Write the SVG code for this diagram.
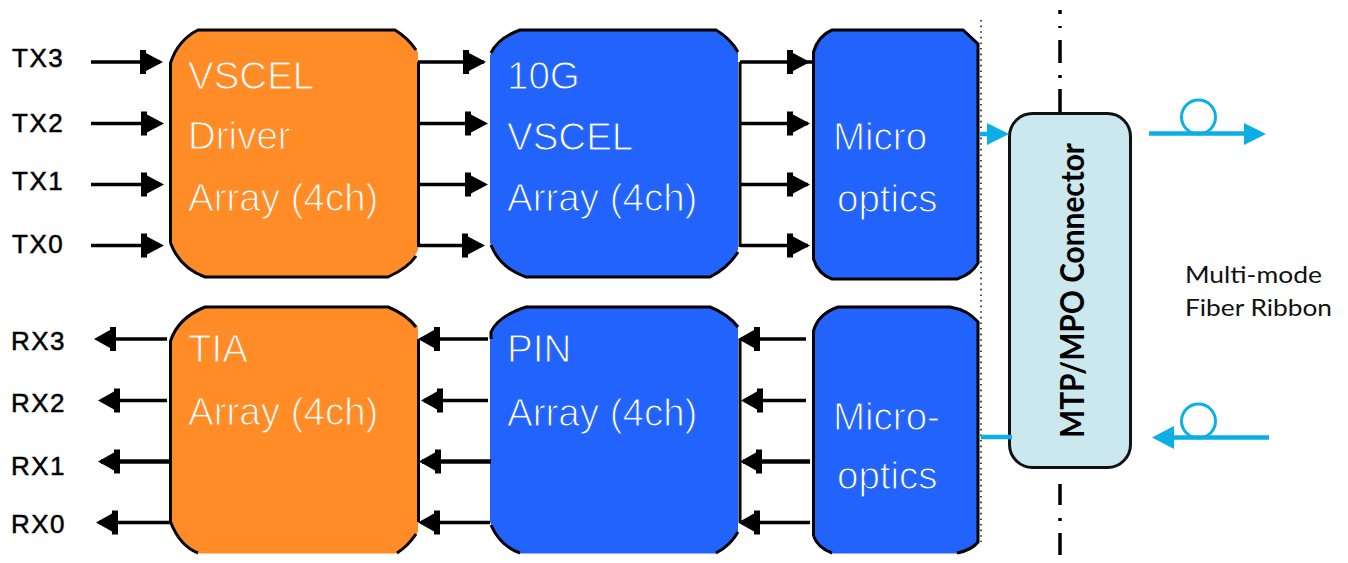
<svg xmlns="http://www.w3.org/2000/svg" width="1348" height="563" viewBox="0 0 1348 563">
<style>
.out{fill:none;stroke:#000;stroke-width:3}
.or{fill:#FF8C26}
.bl{fill:#2163FB}
.t{font-family:"Liberation Sans",Arial,sans-serif;font-size:38.5px;fill:#fff;stroke-width:1.1px}
.to{stroke:#FF8C26}
.tb{stroke:#2163FB}
.lab{font-family:"Liberation Sans",Arial,sans-serif;font-size:26px;fill:#000;stroke:#000;stroke-width:.5px;letter-spacing:1.5px}
.sig{stroke:#000;stroke-width:3.500;fill:none}
.sigt{stroke:#000;stroke-width:4.500;fill:none}
.fib{stroke:#0BAFE6;stroke-width:4.500;fill:none}
.loop{stroke:#0BAFE6;stroke-width:3;fill:none}
.hb{fill:#000}
.hc{fill:#0BAFE6}
.note{font-family:Lato,"Noto Sans",sans-serif;font-size:24px;fill:#111}
</style>
<defs>
<path id="r" class="hb" d="M0,0L-17,-9V-12H-23V12H-17V9Z"/>
<path id="l" class="hb" d="M0,0L16,-9V-12H22V12H16V9Z"/>
</defs>
<g id="separators">
<line x1="981" y1="20" x2="981" y2="542" stroke="#222" stroke-width="1.6" stroke-dasharray="1.6 4"/>
<g stroke="#000" stroke-width="3.5" fill="none">
<path d="M1060,10V14M1060,26V28M1060,40V63M1060,75V78M1060,89V113M1060,484V505M1060,518V521M1060,533V555"/>
</g>
</g>
<g id="driver">
<path class="or" d="M198,29H395Q410,38 418,52V250Q410,268 388,277H205Q180,268 170,243V63Q178,40 198,29Z"/>
<path class="out" d="M170.500,243V63Q178,40 198,30H395Q408,38 416,50M418.500,62V247M416,256Q408,268 388,277H205Q180,268 170.500,243"/>
<text class="t to" x="188" y="89">VSCEL</text>
<text class="t to" x="188" y="149">Driver</text>
<text class="t to" x="188" y="211">Array (4ch)</text>
</g>
<g id="tia">
<path class="or" d="M205,306H388Q408,314 418,327V532Q410,546 397,553.500H198Q180,546 170,522V341Q178,318 205,306Z"/>
<path class="out" d="M170.500,522V341Q178,318 205,307H388Q406,314 416,327M418.500,339V522M416,534Q408,546 397,553M198,553Q180,546 170.500,522"/>
<text class="t to" x="188" y="362">TIA</text>
<text class="t to" x="188" y="425">Array (4ch)</text>
</g>
<g id="vcsel">
<path class="bl" d="M520,29H716Q730,38 738,52V250Q728,268 710,277H526Q500,268 490,243V55Q498,38 520,29Z"/>
<path class="out" d="M491,53Q498,38 520,30H716Q730,38 738,52M740,62V247M738,252Q728,268 710,277H526Q500,268 491,245"/>
<text class="t tb" x="507" y="89">10G</text>
<text class="t tb" x="507" y="150">VSCEL</text>
<text class="t tb" x="507" y="211">Array (4ch)</text>
</g>
<g id="pin">
<path class="bl" d="M526,306H710Q728,314 738,327V532Q730,546 716,553.500H520Q500,546 490,522V335Q498,316 526,306Z"/>
<path class="out" d="M491,339V332Q498,316 526,307H710Q728,314 738,327M740,339V522M738,532Q730,546 716,553M520,553Q500,546 491,525"/>
<text class="t tb" x="507" y="362">PIN</text>
<text class="t tb" x="507" y="426">Array (4ch)</text>
</g>
<g id="micro-tx">
<path class="bl" d="M832,29H963L978,44V263Q972,274 957,279H832Q818,274 813,259V52Q818,36 832,29Z"/>
<path class="out" d="M813.500,259V52Q818,36 832,30H963L978,44V263Q972,274 957,279H832Q818,274 813.500,259Z"/>
<text class="t tb" x="833" y="150">Micro</text>
<text class="t tb" x="837" y="212">optics</text>
</g>
<g id="micro-rx">
<path class="bl" d="M838,306H950Q968,310 978,322V542Q972,550 957,553.500H832Q818,548 813,536V331Q818,314 838,306Z"/>
<path class="out" d="M813.500,536V331Q818,314 838,307H950Q968,310 978,322V542Q972,550 957,553M832,553Q818,548 813.500,536"/>
<text class="t tb" x="833" y="430">Micro-</text>
<text class="t tb" x="837" y="489">optics</text>
</g>
<g id="connector">
<rect x="1009.500" y="113.500" width="121" height="354" rx="23" fill="#CBE8EE" stroke="#111" stroke-width="3"/>
<text font-family="Lato,'Noto Sans',sans-serif" font-weight="700" font-size="33" fill="#000" transform="translate(1084,438) rotate(-90)" textLength="295" lengthAdjust="spacingAndGlyphs">MTP/MPO Connector</text>
</g>
<g id="labels">
<text class="lab" x="12" y="67">TX3</text>
<text class="lab" x="12" y="132">TX2</text>
<text class="lab" x="12" y="190">TX1</text>
<text class="lab" x="12" y="253">TX0</text>
<text class="lab" x="11" y="350">RX3</text>
<text class="lab" x="11" y="412">RX2</text>
<text class="lab" x="11" y="475">RX1</text>
<text class="lab" x="11" y="533">RX0</text>
<text class="note" x="1185" y="283" textLength="137" lengthAdjust="spacingAndGlyphs">Multi-mode</text>
<text class="note" x="1185" y="316" textLength="147" lengthAdjust="spacingAndGlyphs">Fiber Ribbon</text>
</g>
<g id="connectors">
<path class="sig" d="M91,62H160M91,123.500H160M91,184.500H160M91,245.500H160"/>
<path class="sig" d="M418,62H484M418,123.500H484M418,184.500H484M418,245.500H482"/>
<path class="sig" d="M740,62H812M740,123.500H808M740,184.500H808M740,245.500H808"/>
<use href="#r" x="163" y="62"/><use href="#r" x="164" y="123.500"/><use href="#r" x="164" y="184.500"/><use href="#r" x="164" y="245.500"/>
<use href="#r" x="486" y="62"/><use href="#r" x="488" y="123.500"/><use href="#r" x="488" y="184.500"/><use href="#r" x="485" y="245.500"/>
<use href="#r" x="810" y="62"/><use href="#r" x="810" y="123.500"/><use href="#r" x="810" y="184.500"/><use href="#r" x="810" y="245.500"/>
<path class="sig" d="M97,339H167M101,400.500H167M99,522.500H170"/><path class="sigt" d="M101,461.500H170"/>
<path class="sig" d="M421,339H488M424,400.500H488M421,522.500H490"/><path class="sigt" d="M422,461.500H491"/>
<path class="sig" d="M741,339H806M745,400.500H806M741,522.500H810"/><path class="sigt" d="M743,461.500H810"/>
<use href="#l" x="94" y="339"/><use href="#l" x="98" y="400.500"/><use href="#l" x="98" y="461.500"/><use href="#l" x="96" y="522.500"/>
<use href="#l" x="418" y="339"/><use href="#l" x="421" y="400.500"/><use href="#l" x="419" y="461.500"/><use href="#l" x="418" y="522.500"/>
<use href="#l" x="738" y="339"/><use href="#l" x="741" y="400.500"/><use href="#l" x="740" y="461.500"/><use href="#l" x="738" y="522.500"/>
<path class="fib" d="M980,134H992M981,437H1012M1149,133.500H1248M1269,437.500H1170"/>
<path class="hc" d="M1009,134L987,123V145Z"/>
<path class="hc" d="M1266,134L1244,123V145Z"/>
<path class="hc" d="M1152,437.500L1174,426V449Z"/>
<circle class="loop" cx="1198.500" cy="117" r="17"/>
<circle class="loop" cx="1198.500" cy="421" r="17"/>
</g>
</svg>
